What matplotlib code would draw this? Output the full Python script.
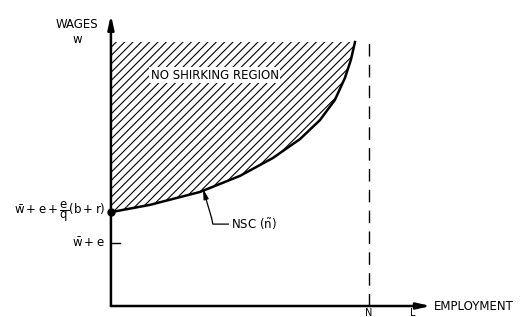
import numpy as np
import matplotlib
matplotlib.use('Agg')
import matplotlib.pyplot as plt

plt.rcParams['font.family'] = ['DejaVu Sans']
plt.rcParams['mathtext.fontset'] = 'dejavusans'
plt.rcParams['hatch.linewidth'] = 0.8

# employment (N = 1) and wage levels
employment = [0.0, 0.151, 0.345, 0.500, 0.628, 0.733, 0.810, 0.868, 0.907, 0.930, 0.946]
nsc_wage = [2.98, 3.21, 3.62, 4.13, 4.70, 5.30, 5.90, 6.54, 7.24, 7.81, 8.38]
W_E = 2.0          # w-bar + e
W_TOP = 8.38       # top of the shaded region
N_LAB = 1.0        # labour force N

fig = plt.figure(figsize=(5.25, 3.17), dpi=100)
ax = fig.add_axes([0, 0, 1, 1])
ax.set_xlim(-0.430, 1.605)
ax.set_ylim(-0.349, 9.714)
ax.axis('off')

# shaded no-shirking region
ax.fill_between(employment, nsc_wage, W_TOP, facecolor='white',
                edgecolor='black', hatch='////', linewidth=0)
ax.plot(employment, nsc_wage, color='black', lw=1.8)
ax.plot(employment[0], nsc_wage[0], 'o', color='black', ms=5)

# axes with arrows
ax.annotate('', xy=(0, 9.24), xytext=(0, 0),
            arrowprops=dict(arrowstyle='-|>,head_length=0.8,head_width=0.18',
                            color='black', lw=1.8, shrinkA=0, shrinkB=0))
ax.annotate('', xy=(1.24, 0), xytext=(0, 0),
            arrowprops=dict(arrowstyle='-|>,head_length=0.8,head_width=0.18',
                            color='black', lw=1.8, shrinkA=0, shrinkB=0))

# full-employment line
ax.plot([N_LAB, N_LAB], [0, W_TOP], color='black', lw=1.0,
        dashes=(9, 6))

# w-bar + e tick
ax.plot([0, 0.035], [W_E, W_E], color='black', lw=1.0)

fs = 8.5
ax.text(-0.13, 8.95, 'WAGES', ha='center', va='center', fontsize=fs)
ax.text(-0.13, 8.45, 'w', ha='center', va='center', fontsize=fs)
ax.text(0.403, 7.33, 'NO SHIRKING REGION', ha='center', va='center', fontsize=fs,
        bbox=dict(facecolor='white', edgecolor='none', pad=1))
ax.text(-0.02, nsc_wage[0],
        r'$\bar{\mathrm{w}}+\mathrm{e}+\dfrac{\mathrm{e}}{\mathrm{q}}(\mathrm{b}+\mathrm{r})$',
        ha='right', va='center', fontsize=8.5)
ax.text(-0.025, W_E, r'$\bar{\mathrm{w}}+\mathrm{e}$', ha='right', va='center',
        fontsize=8.5)
ax.text(1.252, 0, 'EMPLOYMENT', ha='left', va='center', fontsize=fs)
ax.text(N_LAB, -0.06, 'N', ha='center', va='top', fontsize=7)
ax.text(1.17, -0.06, 'L', ha='center', va='top', fontsize=7)

# NSC label with bent pointer
ax.text(0.465, 2.6, r'NSC ($\tilde{\mathrm{n}}$)', ha='left', va='center', fontsize=fs)
ax.plot([0.455, 0.395, 0.39], [2.6, 2.6, 2.8], color='black', lw=0.9)
ax.annotate('', xy=(0.357, 3.72), xytext=(0.39, 2.8),
            arrowprops=dict(arrowstyle='-|>,head_length=0.6,head_width=0.15',
                            color='black', lw=0.9, shrinkA=0, shrinkB=0))

fig.savefig('out.png', dpi=100)
